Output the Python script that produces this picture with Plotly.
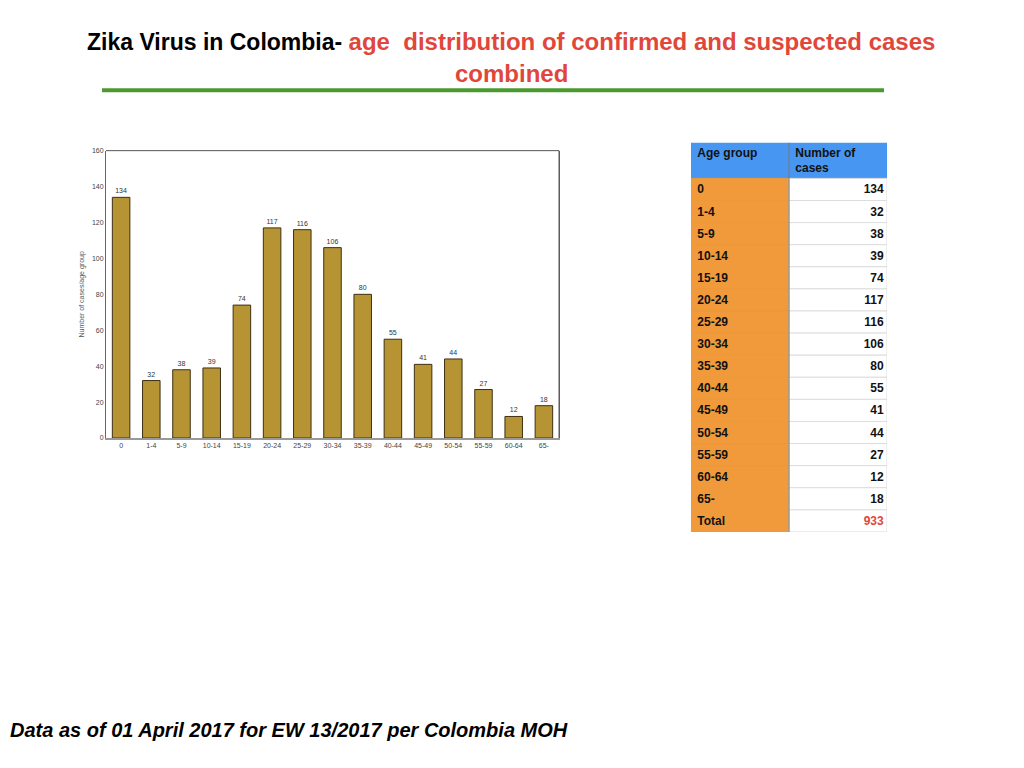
import plotly.graph_objects as go

W, H = 1024, 768

age_groups = ["0", "1-4", "5-9", "10-14", "15-19", "20-24", "25-29", "30-34",
              "35-39", "40-44", "45-49", "50-54", "55-59", "60-64", "65-"]
cases = [134, 32, 38, 39, 74, 117, 116, 106, 80, 55, 41, 44, 27, 12, 18]
total_label = "Total"
total_cases = 933

y_ticks = [0, 20, 40, 60, 80, 100, 120, 140, 160]

table_header = ["Age group", "Number of<br>cases"]


def px_x(p):
    return p / W


def px_y(p):
    return 1 - p / H


fig = go.Figure()

fig.add_trace(go.Bar(
    x=age_groups, y=cases,
    marker=dict(color="#B69433", line=dict(color="#3d3014", width=1)),
    width=0.58,
    text=[str(v) for v in cases], textposition="outside",
    textfont=dict(family="Liberation Sans", size=7, color="#333333"),
    cliponaxis=False,
    hoverinfo="x+y",
))

# table drawn as horizontal bars on its own axes (one bar per cell)
row_labels = age_groups + [total_label]
row_values = [str(v) for v in cases] + [str(total_cases)]
header_h = 36 / 22.3
row_y = [header_h + i + 0.5 for i in range(len(row_labels))]
n = len(row_y)
table_font = dict(family="Liberation Sans", size=12, color="#111111")


def cell_bar(y, width, base, text, fill, line, anchor, font):
    return go.Bar(
        orientation="h", y=y, x=[1] * len(y), base=[base] * len(y), width=width,
        xaxis="x2", yaxis="y2",
        marker=dict(color=fill, line=dict(color=line, width=1)),
        text=text, textposition="inside", insidetextanchor=anchor,
        constraintext="none", insidetextfont=font, hoverinfo="skip",
    )


# header cells (left aligned, text at the top of the cell)
hdr1 = "<b>&nbsp;%s</b><br>&nbsp;" % table_header[0]
top, bottom = table_header[1].split("<br>")
hdr2 = "<b>&nbsp;%s<br>&nbsp;%s%s</b>" % (top, bottom, "&nbsp;" * 8)
fig.add_trace(cell_bar([header_h / 2], [header_h], 0, [hdr1],
                       "#4797F2", "#4797F2", "start", table_font))
fig.add_trace(cell_bar([header_h / 2], [header_h], 1, [hdr2],
                       "#4797F2", "#4797F2", "start", table_font))
# body cells
fig.add_trace(cell_bar(row_y, [1.0] * n, 0,
                       ["<b>&nbsp;%s</b>" % r for r in row_labels],
                       "#F09A3C", "#EE9838", "start", table_font))
fig.add_trace(cell_bar(row_y, [1.0] * n, 1,
                       ["<b>%s</b>" % v for v in row_values],
                       "#FFFFFF", "#DDDDDD", "end",
                       dict(family="Liberation Sans", size=12,
                            color=["#111111"] * (n - 1) + ["#E0473A"])))

fig.update_layout(
    width=W, height=H,
    margin=dict(l=0, r=0, t=0, b=0),
    paper_bgcolor="white", plot_bgcolor="white",
    showlegend=False,
    bargap=0.4,
    barmode="overlay",
    xaxis=dict(
        domain=[px_x(106), px_x(559)],
        showline=True, linecolor="#999999", linewidth=1.5, mirror=False,
        ticks="", tickfont=dict(family="Liberation Sans", size=7, color="#444444"),
        showgrid=False, fixedrange=True,
    ),
    yaxis=dict(
        domain=[px_y(438), px_y(148)],
        range=[0, 160], tickvals=y_ticks,
        showline=True, linecolor="#666666", linewidth=1, mirror=True,
        ticks="", showgrid=False, zeroline=False,
        tickfont=dict(family="Liberation Sans", size=7, color="#444444"),
        title=dict(text="Number of cases/age group",
                   font=dict(family="Liberation Sans", size=7, color="#555555"),
                   standoff=6),
    ),
    xaxis2=dict(
        domain=[px_x(691), px_x(887)], range=[0, 2], anchor="y2",
        visible=False, fixedrange=True,
    ),
    yaxis2=dict(
        domain=[px_y(140 + 36 + 16 * 22.3), px_y(140)],
        range=[header_h + len(row_labels), 0], anchor="x2",
        visible=False, fixedrange=True,
    ),
)

# column divider of the table
fig.add_shape(type="line", xref="x2", yref="y2", x0=1, x1=1,
              y0=0, y1=header_h + len(row_labels),
              line=dict(color="#777777", width=1))

# top and right frame of the plot area
fig.add_shape(type="line", xref="paper", yref="paper",
              x0=px_x(106), x1=px_x(559), y0=px_y(148), y1=px_y(148),
              line=dict(color="#555555", width=1))
fig.add_shape(type="line", xref="paper", yref="paper",
              x0=px_x(559), x1=px_x(559), y0=px_y(148), y1=px_y(438),
              line=dict(color="#555555", width=1))

# title
fig.add_annotation(
    xref="paper", yref="paper", x=px_x(511), y=px_y(38), xanchor="center", yanchor="middle",
    text="<b>Zika Virus in Colombia- </b>"
         "<span style='color:#E0473A;font-size:24px'><b>age  distribution of confirmed and suspected cases</b></span>",
    showarrow=False, font=dict(family="Liberation Sans", size=23, color="#000000"),
)
fig.add_annotation(
    xref="paper", yref="paper", x=px_x(511), y=px_y(70), xanchor="center", yanchor="middle",
    text="<b>combined</b>", showarrow=False,
    font=dict(family="Liberation Sans", size=24, color="#E0473A"),
)
fig.add_shape(type="line", xref="paper", yref="paper",
              x0=px_x(102), x1=px_x(884), y0=px_y(87), y1=px_y(87),
              line=dict(color="#4A9A2F", width=4))

# footer
fig.add_annotation(
    xref="paper", yref="paper", x=px_x(8), y=px_y(733), xanchor="left", yanchor="middle",
    text="<b><i>Data as of 01 April 2017 for EW 13/2017 per Colombia MOH</i></b>",
    showarrow=False, font=dict(family="Liberation Sans", size=20, color="#000000"),
)

fig.write_html("out.html", config={"displayModeBar": False},
               post_script="document.body.style.margin='0';document.body.style.overflow='hidden';")
